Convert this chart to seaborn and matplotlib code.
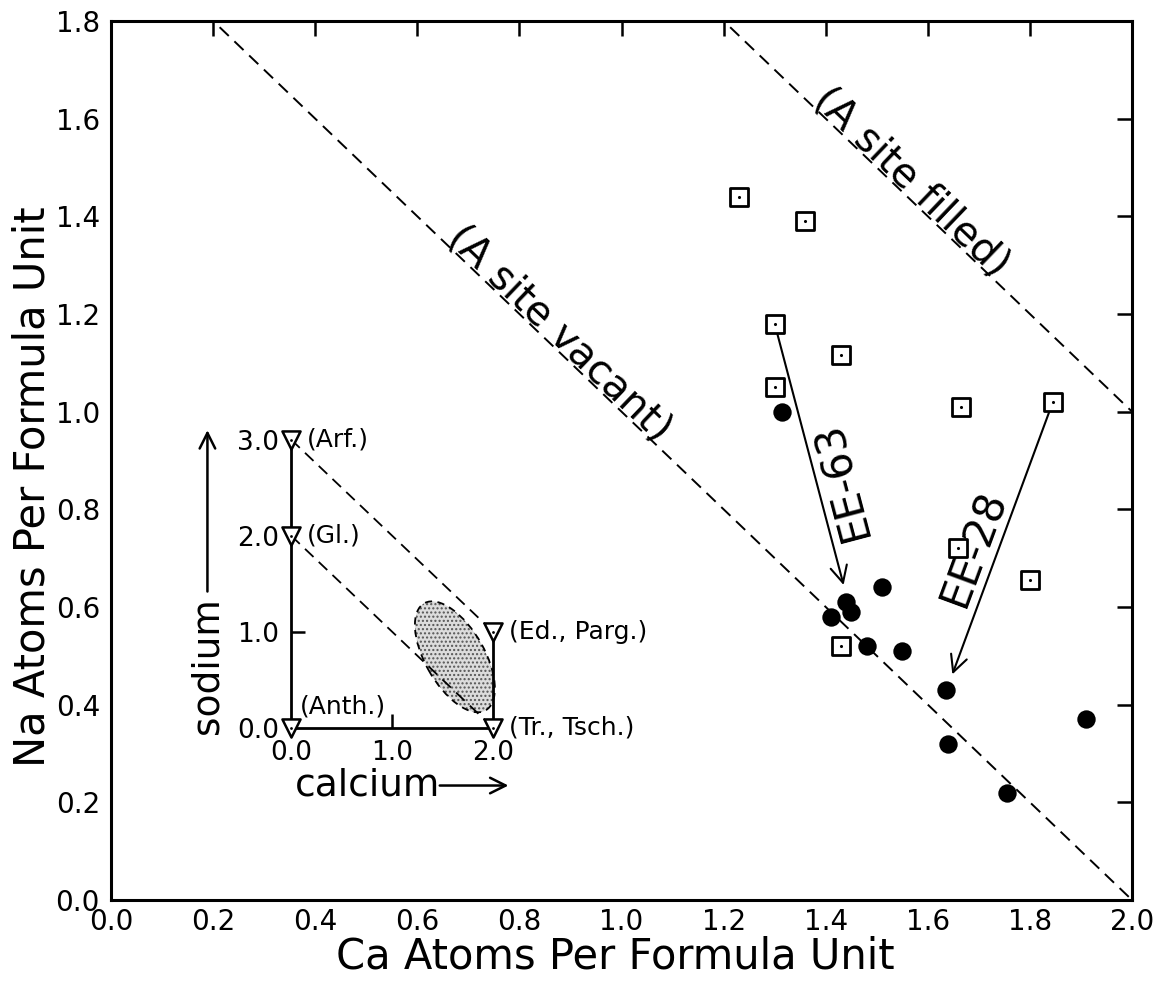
import numpy as np
import pandas as pd
import matplotlib
matplotlib.use("Agg")
import matplotlib.pyplot as plt
import seaborn as sns
from matplotlib.patches import Ellipse

# ---------------- data ----------------
sq_ca = [1.23, 1.36, 1.30, 1.43, 1.30, 1.665, 1.845, 1.66, 1.80, 1.43]
sq_na = [1.44, 1.39, 1.18, 1.115, 1.05, 1.01, 1.02, 0.72, 0.655, 0.52]
ci_ca = [1.315, 1.51, 1.44, 1.45, 1.41, 1.48, 1.55, 1.635, 1.91, 1.64, 1.755]
ci_na = [1.00, 0.64, 0.61, 0.59, 0.58, 0.52, 0.51, 0.43, 0.37, 0.32, 0.22]

site_sums = [2.0, 3.0]                       # Na + Ca = const
site_labels = ["(A site vacant)", "(A site filled)"]
site_label_ca = [0.86, 1.55]

arrow_labels = ["EE-63", "EE-28"]
arrow_from = [(1.30, 1.18), (1.845, 1.02)]
arrow_to = [(1.435, 0.645), (1.648, 0.462)]
arrow_label_pos = [(1.43, 0.86), (1.69, 0.72)]

x_ticks = [0.0, 0.2, 0.4, 0.6, 0.8, 1.0, 1.2, 1.4, 1.6, 1.8, 2.0]
y_ticks = [0.0, 0.2, 0.4, 0.6, 0.8, 1.0, 1.2, 1.4, 1.6, 1.8]

# inset diagram
inset_ca = [0, 0, 0, 2, 2]
inset_na = [3, 2, 0, 1, 0]
inset_names = ["(Arf.)", "(Gl.)", "(Anth.)", "(Ed., Parg.)", "(Tr., Tsch.)"]
inset_xticks = [0.0, 1.0, 2.0]
inset_yticks = [0.0, 1.0, 2.0, 3.0]
inset_dashed = [((0.0, 3.0), (2.0, 1.0)), ((0.0, 2.0), (2.0, 0.0))]
field_center = (1.62, 0.74)
field_long, field_short, field_angle = 1.27, 0.59, -62

# ---------------- figure ----------------
sns.set_style("white")
plt.rcParams["font.family"] = ["DejaVu Sans"]
plt.rcParams.update({"text.color": "black", "axes.labelcolor": "black",
                     "xtick.color": "black", "ytick.color": "black",
                     "axes.edgecolor": "black"})
fig = plt.figure(figsize=(11.6, 9.85), dpi=100)
ax = fig.add_axes([0.0957, 0.0863, 0.8802, 0.8924])
ax.set_xlim(0, 2.0)
ax.set_ylim(0, 1.8)

dash = (0, (6.5, 4))
for s in site_sums:
    xs = np.array([0.0, 2.0])
    sns.lineplot(x=xs, y=s - xs, ax=ax, color="black", lw=1.4)
    ax.lines[-1].set_linestyle(dash)

sns.scatterplot(x=sq_ca, y=sq_na, marker="s", s=165, facecolor="white",
                edgecolor="black", linewidth=2.0, ax=ax, zorder=5)
sns.scatterplot(x=sq_ca, y=sq_na, marker="o", s=5, color="black",
                linewidth=0, ax=ax, zorder=6)
sns.scatterplot(x=ci_ca, y=ci_na, marker="o", s=175, color="black",
                linewidth=0, ax=ax, zorder=5)

for (x0, y0), (x1, y1) in zip(arrow_from, arrow_to):
    ax.annotate("", xy=(x1, y1), xytext=(x0, y0),
                arrowprops=dict(arrowstyle="->", lw=1.5, color="black",
                                shrinkA=7.5, shrinkB=0, mutation_scale=30),
                zorder=4)

for lab, (xf, yf), (xt, yt), (lx, ly) in zip(arrow_labels, arrow_from, arrow_to, arrow_label_pos):
    p0 = ax.transData.transform((xt, yt))
    p1 = ax.transData.transform((xf, yf))
    ang = np.degrees(np.arctan2(p1[1] - p0[1], p1[0] - p0[0]))
    ax.text(lx, ly, lab, rotation=ang, rotation_mode="anchor",
            ha="center", va="center", fontsize=30)

for s, lab, cx in zip(site_sums, site_labels, site_label_ca):
    ang = ax.transData.transform_angles(np.array([-45.0]), np.array([[cx, s - cx]]))[0]
    a = np.radians(ang)
    d = 2
    ax.annotate(lab, xy=(cx, s - cx), xytext=(-np.sin(a) * d, np.cos(a) * d),
                textcoords="offset points", rotation=ang, rotation_mode="anchor",
                ha="center", va="baseline", fontsize=29)

ax.set_xticks(x_ticks)
ax.set_xticklabels([f"{v:.1f}" for v in x_ticks])
ax.set_yticks(y_ticks)
ax.set_yticklabels([f"{v:.1f}" for v in y_ticks])
ax.tick_params(direction="in", length=11, width=1.8, top=True, right=True,
               labelsize=20, pad=8)
ax.tick_params(axis="x", pad=6)
for sp in ax.spines.values():
    sp.set_linewidth(2.2)
    sp.set_color("black")

ax.set_xlabel("Ca Atoms Per Formula Unit", fontsize=30)
ax.set_ylabel("Na Atoms Per Formula Unit", fontsize=30)
ax.xaxis.set_label_coords(0.494, -0.040)
ax.yaxis.set_label_coords(-0.056, 0.47)

# ---------------- inset ----------------
ai = fig.add_axes([0.1466, 0.1635, 0.357, 0.4193])
ai.set_xlim(-1.2, 2.9)
ai.set_ylim(-1.0, 3.3)
ai.patch.set_alpha(0)
for k in ["top", "right"]:
    ai.spines[k].set_visible(False)
ai.spines["left"].set_position(("data", 0))
ai.spines["bottom"].set_position(("data", 0))
ai.spines["left"].set_bounds(0, max(inset_na))
ai.spines["bottom"].set_bounds(0, max(inset_ca))
for k in ["left", "bottom"]:
    ai.spines[k].set_linewidth(2.0)
    ai.spines[k].set_color("black")
ai.plot([inset_ca[3], inset_ca[4]], [inset_na[3], inset_na[4]],
        color="black", lw=2.0, solid_capstyle="butt")

for (xa, ya), (xb, yb) in inset_dashed:
    ai.plot([xa, xb], [ya, yb], color="black", lw=1.3, linestyle=dash)

fill = Ellipse(field_center, field_long, field_short, angle=field_angle,
               facecolor="#dcdcdc", edgecolor="#555555", hatch="....", lw=0)
ai.add_patch(fill)
outline = Ellipse(field_center, field_long, field_short, angle=field_angle,
                  facecolor="none", edgecolor="black", lw=1.3, linestyle=(0, (4, 3)))
ai.add_patch(outline)

sns.scatterplot(x=inset_ca, y=inset_na, marker="v", s=170, facecolor="white",
                edgecolor="black", linewidth=1.8, ax=ai, zorder=5, clip_on=False)
sns.scatterplot(x=inset_ca, y=inset_na, marker="o", s=4, color="black",
                linewidth=0, ax=ai, zorder=6, clip_on=False)

offsets = [(11, 0), (11, 0), (6, 7), (11, 0), (11, 0)]
vas = ["center", "center", "bottom", "center", "center"]
for x, y, lab, off, va in zip(inset_ca, inset_na, inset_names, offsets, vas):
    ai.annotate(lab, xy=(x, y), xytext=off, textcoords="offset points",
                ha="left", va=va, fontsize=18)

ai.set_xticks(inset_xticks)
ai.set_xticklabels([f"{v:.1f}" for v in inset_xticks])
ai.set_yticks(inset_yticks)
ai.set_yticklabels([f"{v:.1f}" for v in inset_yticks])
ai.tick_params(direction="in", length=10, width=1.8, labelsize=19, pad=9)
for t, v in zip(ai.yaxis.get_major_ticks(), inset_yticks):
    t.tick1line.set_visible(v == 1.0)
for t, v in zip(ai.xaxis.get_major_ticks(), inset_xticks):
    t.tick1line.set_visible(v == 1.0)

ai.text(0.04, -0.6, "calcium", fontsize=27, ha="left", va="center")
ai.annotate("", xy=(2.15, -0.6), xytext=(1.47, -0.6),
            arrowprops=dict(arrowstyle="->", lw=1.8, color="black",
                            mutation_scale=28, shrinkA=0, shrinkB=0),
            annotation_clip=False)
ai.text(-0.83, 0.65, "sodium", fontsize=27, rotation=90, ha="center", va="center")
ai.annotate("", xy=(-0.83, 3.1), xytext=(-0.83, 1.42),
            arrowprops=dict(arrowstyle="->", lw=1.8, color="black",
                            mutation_scale=28, shrinkA=0, shrinkB=0),
            annotation_clip=False)

fig.savefig("out.png", dpi=100, facecolor="white")
